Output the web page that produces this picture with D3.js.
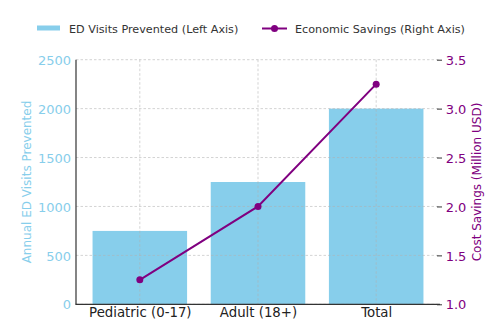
<!DOCTYPE html>
<html><head><meta charset="utf-8">
<script src="https://cdn.jsdelivr.net/npm/d3@7"></script>
<style>body{margin:0;background:#fff}svg{display:block}text{font-family:"DejaVu Sans",sans-serif}</style>
</head><body>
<script>
const categories = ["Pediatric (0-17)", "Adult (18+)", "Total"];
const edVisits = [750, 1250, 2000];
const savings = [1.25, 2.0, 3.25];
const leftTicks = [0, 500, 1000, 1500, 2000, 2500];
const rightTicks = [1.0, 1.5, 2.0, 2.5, 3.0, 3.5];

const W = 503, H = 332;
const L = 76, R = 440, T = 59.7, B = 304.3;
const sky = "#87CEEB", purple = "#800080";

const svg = d3.select("body").append("svg").attr("width", W).attr("height", H);

const x = d3.scaleLinear().domain([-0.54, 2.54]).range([L, R]);
const yL = d3.scaleLinear().domain([0, 2500]).range([B, T]);
const yR = d3.scaleLinear().domain([1.0, 3.5]).range([B, T]);
const bw = x(0.8) - x(0);

// bars
svg.append("g").selectAll("rect").data(edVisits).join("rect")
  .attr("x", (d, i) => x(i) - bw / 2).attr("width", bw)
  .attr("y", d => yL(d)).attr("height", d => B - yL(d))
  .attr("fill", sky);

// grid
const grid = svg.append("g").attr("stroke", "#b0b0b0").attr("stroke-opacity", 0.7)
  .attr("stroke-width", 0.8).attr("stroke-dasharray", "2.5,2");
grid.selectAll(".h").data(leftTicks).join("line")
  .attr("x1", L).attr("x2", R).attr("y1", d => yL(d)).attr("y2", d => yL(d));
grid.selectAll(".v").data(categories).join("line")
  .attr("x1", (d, i) => x(i)).attr("x2", (d, i) => x(i)).attr("y1", T).attr("y2", B);

// left axis
const gl = svg.append("g").attr("transform", `translate(${L},0)`)
  .call(d3.axisLeft(yL).tickValues(leftTicks).tickSize(0).tickPadding(5).tickFormat(d3.format("d")));
gl.select(".domain").remove();
gl.selectAll("text").attr("fill", sky).attr("font-size", 13).attr("dy", "0.36em");

// right axis
const gr = svg.append("g").attr("transform", `translate(${R},0)`)
  .call(d3.axisRight(yR).tickValues(rightTicks).tickSize(0).tickPadding(5.7).tickFormat(d3.format(".1f")));
gr.select(".domain").remove();
gr.selectAll(".tick").append("line").attr("x1", -3).attr("x2", 2).attr("stroke", "#333").attr("stroke-width", 1);
gr.selectAll("text").attr("fill", purple).attr("font-size", 13).attr("dy", "0.36em");

// bottom axis
const gb = svg.append("g").attr("transform", `translate(0,${B})`)
  .call(d3.axisBottom(x).tickValues([0, 1, 2]).tickSize(0).tickPadding(0).tickFormat(i => categories[i]));
gb.select(".domain").remove();
gb.selectAll("text").attr("fill", "#222").attr("font-size", 13.3).attr("y", 12.3).attr("dy", 0);

// spines
svg.append("line").attr("x1", L).attr("x2", L).attr("y1", T).attr("y2", B).attr("stroke", "#333").attr("stroke-width", 1.2);
svg.append("line").attr("x1", L - 0.6).attr("x2", R).attr("y1", B).attr("y2", B).attr("stroke", "#333").attr("stroke-width", 1.2);

// line
svg.append("path").datum(savings)
  .attr("d", d3.line().x((d, i) => x(i)).y(d => yR(d)))
  .attr("fill", "none").attr("stroke", purple).attr("stroke-width", 2);
svg.append("g").selectAll("circle").data(savings).join("circle")
  .attr("cx", (d, i) => x(i)).attr("cy", d => yR(d)).attr("r", 3.5).attr("fill", purple);

// axis labels
svg.append("text").attr("transform", `translate(31,${(T + B) / 2}) rotate(-90)`)
  .attr("text-anchor", "middle").attr("fill", sky).attr("font-size", 12)
  .text("Annual ED Visits Prevented");
svg.append("text").attr("transform", `translate(481,${(T + B) / 2}) rotate(-90)`)
  .attr("text-anchor", "middle").attr("fill", purple).attr("font-size", 12)
  .text("Cost Savings (Million USD)");

// legend
const lg = svg.append("g");
lg.append("rect").attr("x", 37).attr("y", 25.5).attr("width", 23).attr("height", 5).attr("fill", sky);
lg.append("text").attr("x", 69).attr("y", 33.2).attr("font-size", 11.2).attr("fill", "#333")
  .text("ED Visits Prevented (Left Axis)");
lg.append("line").attr("x1", 262).attr("x2", 287).attr("y1", 28.5).attr("y2", 28.5).attr("stroke", purple).attr("stroke-width", 2);
lg.append("circle").attr("cx", 274.5).attr("cy", 28.5).attr("r", 3.5).attr("fill", purple);
lg.append("text").attr("x", 295).attr("y", 33.2).attr("font-size", 11.2).attr("fill", "#333")
  .text("Economic Savings (Right Axis)");
</script>
</body></html>
